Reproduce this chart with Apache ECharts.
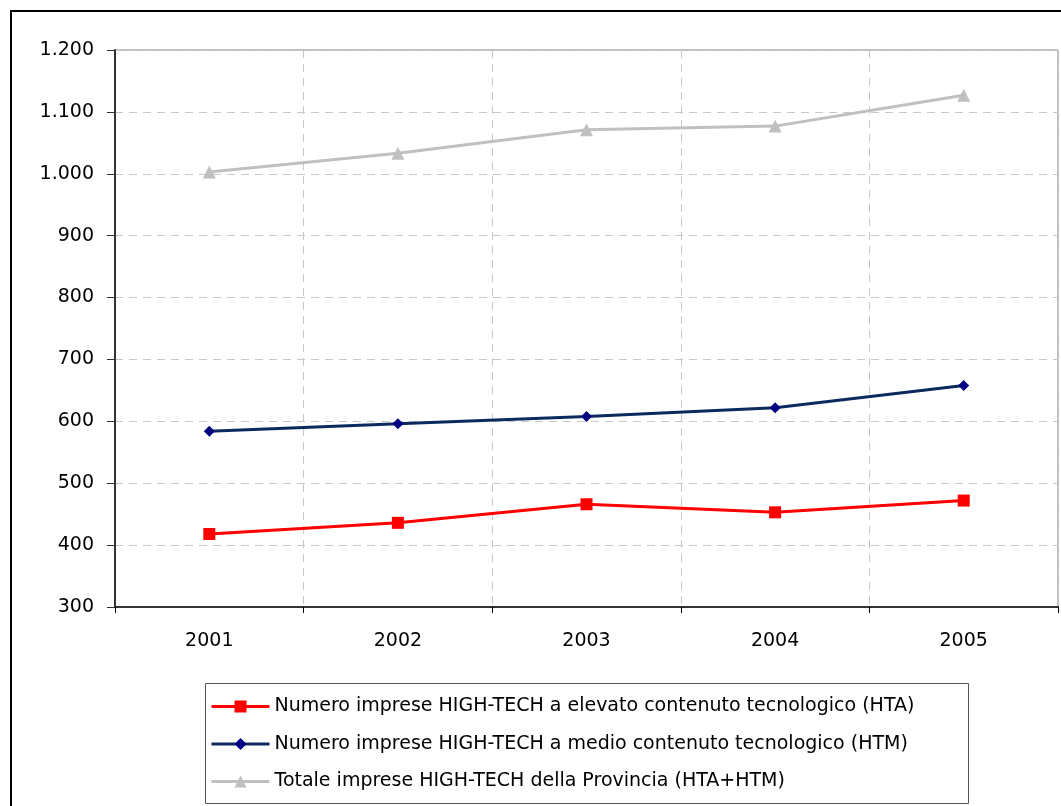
<!DOCTYPE html>
<html lang="it">
<head>
    <meta charset="UTF-8">
    <title>Imprese HIGH-TECH</title>
    <script src="https://cdn.jsdelivr.net/npm/echarts@6/dist/echarts.min.js"></script>
    <style>
        body { margin: 0; background: #fff; }
    </style>
</head>
<body>
<div id="main" style="width: 1061px;height:806px;"></div>
<script type="text/javascript">
// dati
let anni = ['2001', '2002', '2003', '2004', '2005'];
let hta = [418, 436, 466, 453, 472];
let htm = [584, 596, 608, 622, 658];
let totale = [1003, 1033, 1071, 1077, 1127];
let nomi = [
    'Numero imprese HIGH-TECH a elevato contenuto tecnologico (HTA)',
    'Numero imprese HIGH-TECH a medio contenuto tecnologico (HTM)',
    'Totale imprese HIGH-TECH della Provincia (HTA+HTM)'
];

let font = 'DejaVu Sans';
let myChart = echarts.init(document.getElementById('main'));

let option = {
    animation: false,
    textStyle: { fontFamily: font },
    graphic: [
        {   // cornice esterna
            type: 'rect',
            shape: { x: 11, y: 11, width: 1070, height: 820 },
            style: { fill: null, stroke: '#000', lineWidth: 2 }
        },
        {   // riquadro legenda
            type: 'rect',
            shape: { x: 205.5, y: 683.5, width: 763, height: 120 },
            style: { fill: null, stroke: '#555', lineWidth: 1 }
        }
    ],
    grid: {
        left: 115, top: 50, right: 3, bottom: 199,
        show: true, borderColor: '#808080', borderWidth: 1
    },
    legend: {
        orient: 'vertical',
        left: 205, top: 692,
        itemWidth: 58, itemHeight: 15,
        itemGap: 18.5,
        lineStyle: { width: 3 },
        textStyle: { fontSize: 19, lineHeight: 19, color: '#000', fontFamily: font },
        data: nomi
    },
    xAxis: {
        type: 'category',
        data: anni,
        boundaryGap: true,
        axisLine: { lineStyle: { color: '#333', width: 2 } },
        axisTick: { show: true, length: 6, lineStyle: { color: '#000' } },
        axisLabel: { fontSize: 19, color: '#000', margin: 25 },
        splitLine: { show: true, lineStyle: { type: [8, 6], color: '#c8c8c8' } }
    },
    yAxis: {
        type: 'value',
        min: 300, max: 1200, interval: 100,
        axisLine: { show: true, lineStyle: { color: '#333', width: 2 } },
        axisTick: { show: true, length: 8, lineStyle: { color: '#333' } },
        axisLabel: {
            fontSize: 19, color: '#000', margin: 21,
            formatter: function (v) { return v.toLocaleString('de-DE'); }
        },
        splitLine: { show: true, lineStyle: { type: [8, 6], color: '#c8c8c8' } }
    },
    series: [
        {
            name: nomi[0], type: 'line', data: hta,
            symbol: 'rect', symbolSize: 12,
            lineStyle: { color: '#ff0000', width: 3 },
            itemStyle: { color: '#ff0000' }
        },
        {
            name: nomi[1], type: 'line', data: htm,
            symbol: 'diamond', symbolSize: 11,
            lineStyle: { color: '#0b2a5e', width: 3 },
            itemStyle: { color: '#000080' }
        },
        {
            name: nomi[2], type: 'line', data: totale,
            symbol: 'triangle', symbolSize: 13,
            lineStyle: { color: '#c0c0c0', width: 3 },
            itemStyle: { color: '#c0c0c0' }
        }
    ]
};
myChart.setOption(option);
</script>
</body>
</html>
